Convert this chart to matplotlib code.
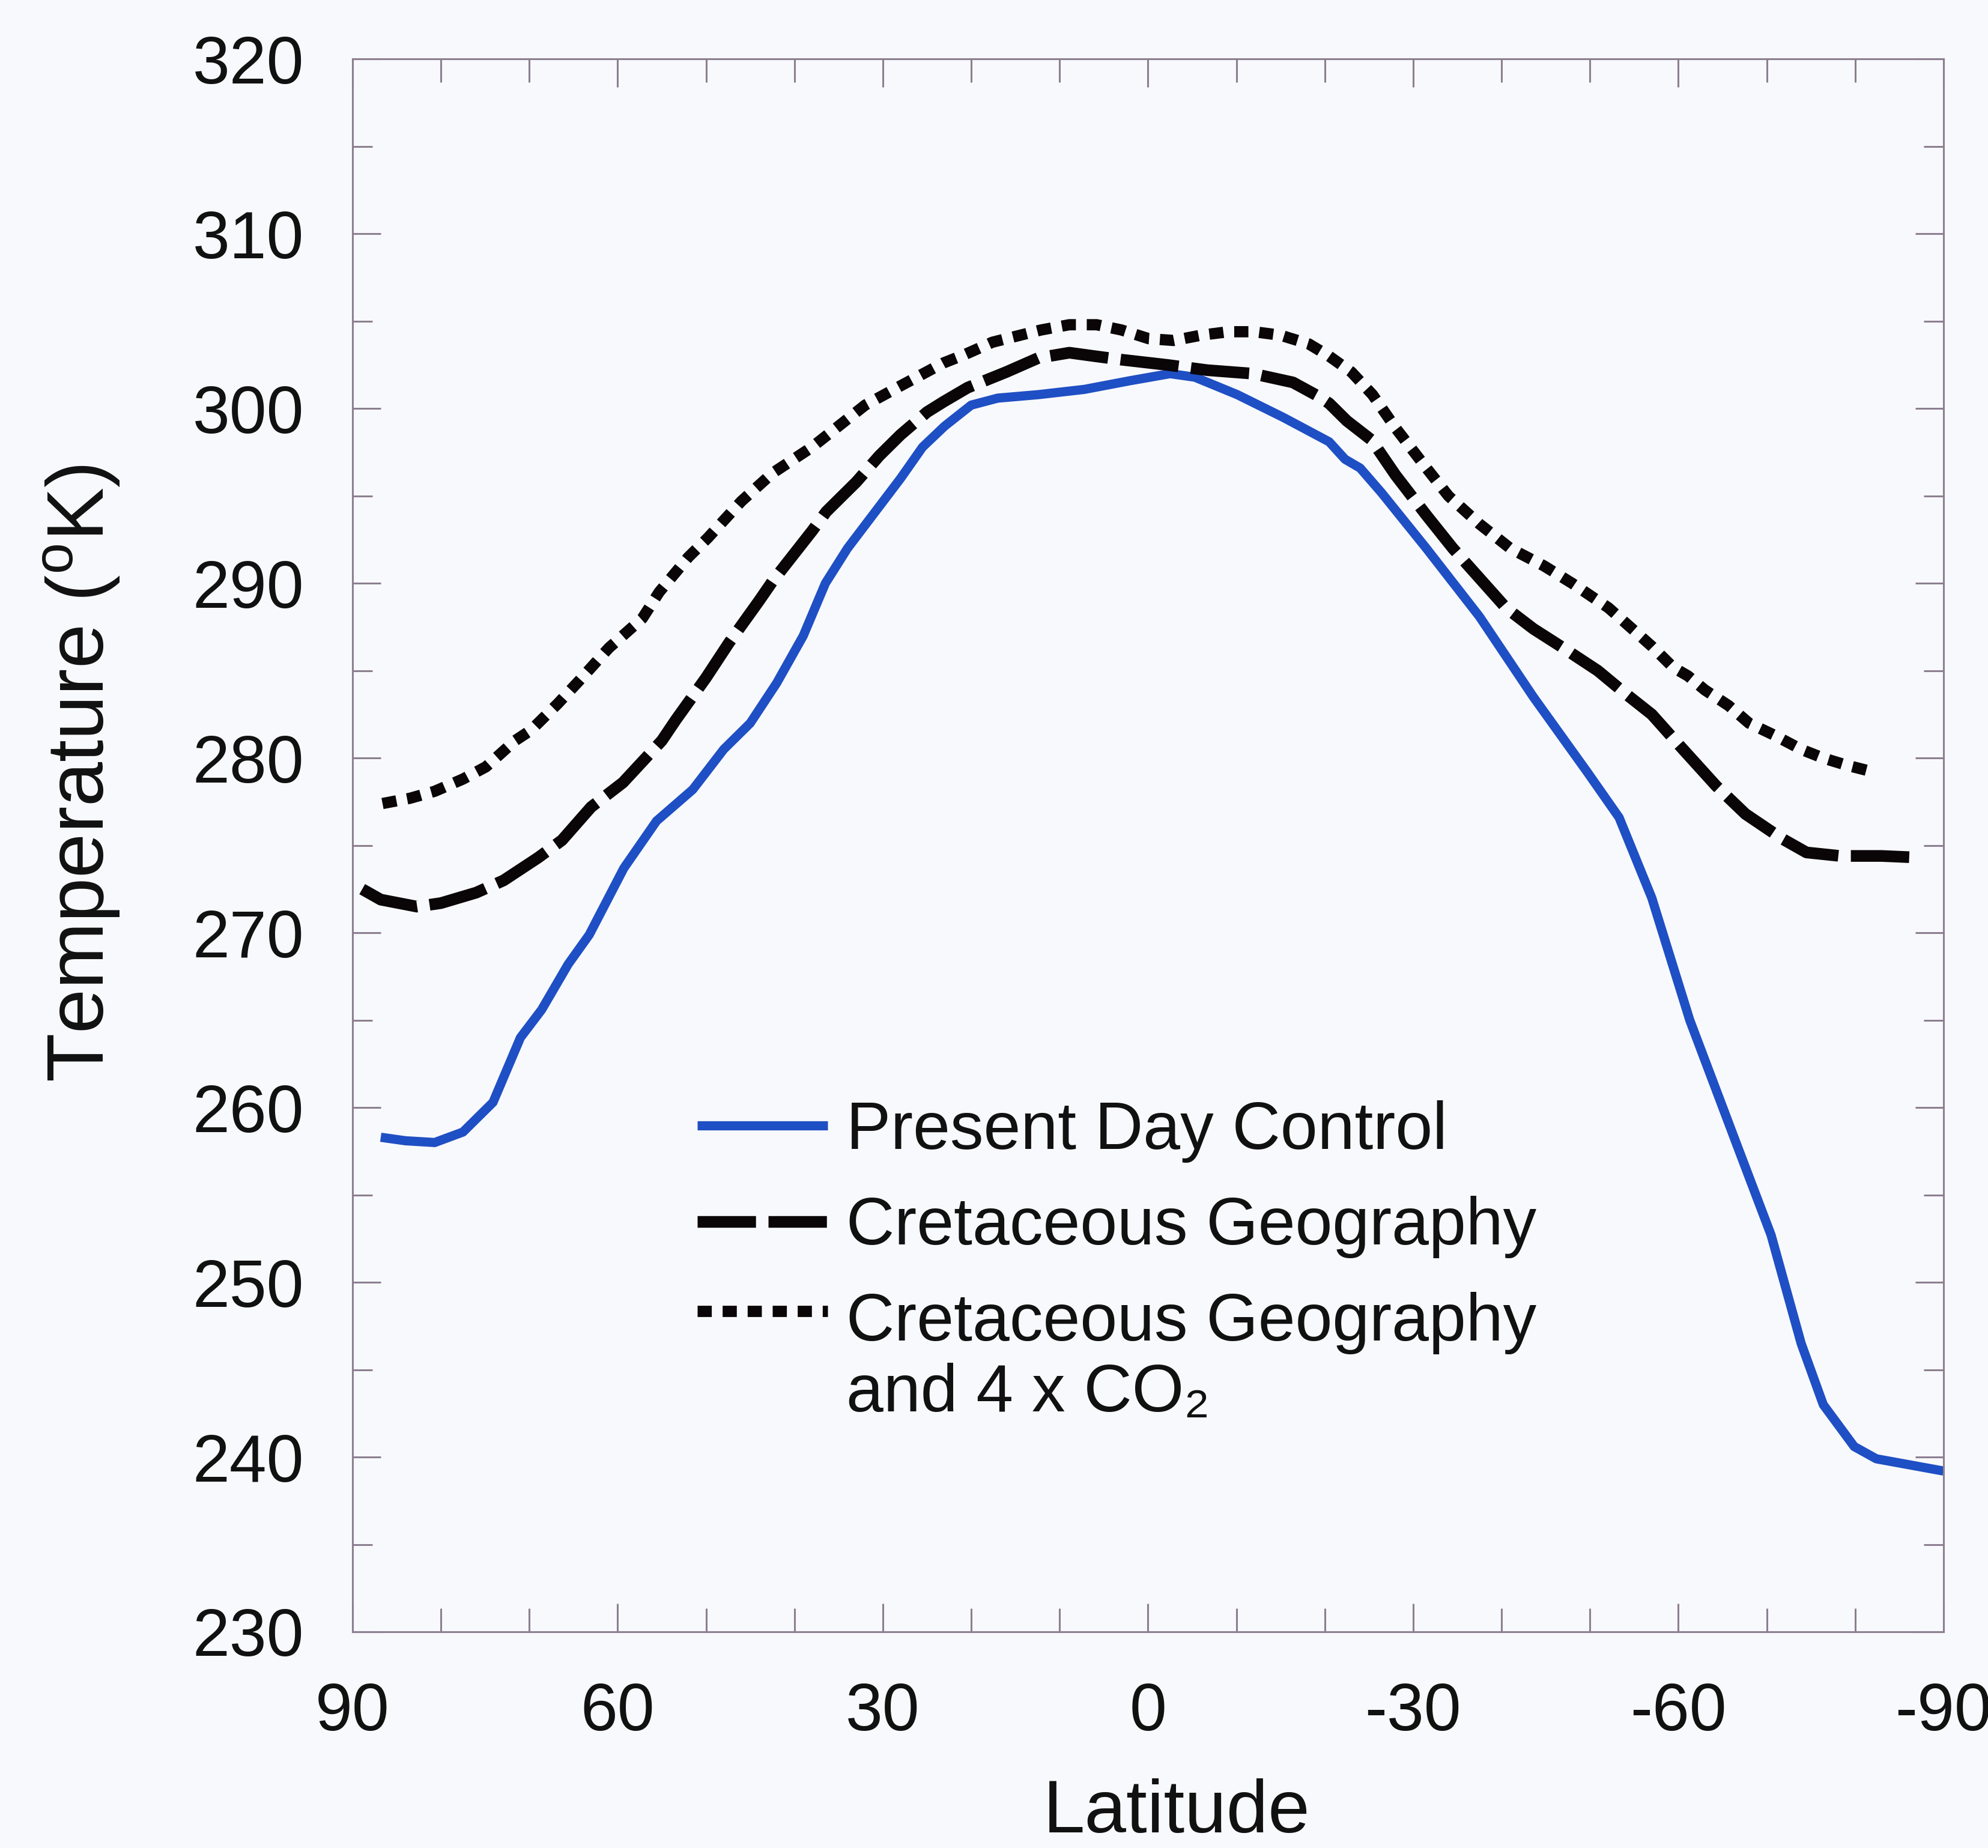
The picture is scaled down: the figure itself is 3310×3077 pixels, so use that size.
import matplotlib
matplotlib.use("Agg")
import matplotlib.pyplot as plt
import numpy as np
from matplotlib.ticker import FixedLocator, MultipleLocator

plt.rcParams['font.family'] = ['Liberation Sans', 'DejaVu Sans']
plt.rcParams['axes.unicode_minus'] = False
plt.rcParams['mathtext.fontset'] = 'custom'
plt.rcParams['mathtext.rm'] = 'Liberation Sans'
plt.rcParams['lines.scale_dashes'] = False

# ---- data ----
present_lat = [86.8, 84.0, 80.7, 77.5, 74.1, 71.0, 68.6, 65.6, 63.2, 59.3, 55.6, 51.5, 48.0, 45.0,
               42.0, 39.0, 36.5, 34.0, 31.0, 28.0, 25.5, 23.0, 20.0, 17.0, 12.4, 7.2, 2.0, -2.5,
               -5.3, -10.1, -15.3, -20.5, -22.3, -24.0, -26.4, -31.5, -37.5, -43.6, -49.7, -53.3,
               -57.0, -61.3, -66.6, -70.5, -73.9, -76.4, -79.9, -82.4, -90.0]
present_T = [258.3, 258.1, 258.0, 258.6, 260.3, 264.0, 265.6, 268.2, 269.9, 273.7, 276.4, 278.2, 280.5, 282.0,
             284.3, 287.0, 290.0, 292.0, 294.0, 296.0, 297.8, 299.0, 300.2, 300.6, 300.8, 301.1, 301.6, 302.0,
             301.8, 300.8, 299.5, 298.1, 297.1, 296.6, 295.2, 292.0, 288.1, 283.5, 279.2, 276.6,
             272.0, 265.0, 257.9, 252.7, 246.5, 243.0, 240.6, 239.9, 239.2]

cret_lat = [88.9, 86.8, 82.7, 80.0, 76.0, 72.9, 69.0, 66.3, 63.0, 59.4, 55.0, 53.4, 50.0, 47.4, 44.0,
            42.5, 38.0, 36.4, 33.0, 30.4, 28.0, 25.0, 23.1, 20.4, 16.0, 12.4, 8.9, 6.0, 3.0, -2.2,
            -6.7, -11.9, -16.4, -19.3, -20.5, -22.5, -25.3, -28.0, -31.5, -34.5, -37.5, -40.5,
            -43.6, -47.0, -50.9, -54.0, -57.0, -60.0, -64.3, -67.6, -71.7, -74.5, -78.3, -83.0, -87.5]
cret_T = [272.5, 271.9, 271.5, 271.7, 272.3, 273.0, 274.3, 275.3, 277.2, 278.6, 281.0, 282.2, 284.6, 286.6, 289.0,
          290.1, 293.0, 294.1, 295.8, 297.3, 298.5, 299.8, 300.4, 301.2, 302.1, 302.9, 303.2, 303.0, 302.8, 302.5,
          302.2, 302.0, 301.5, 300.7, 300.3, 299.3, 298.2, 296.2, 293.9, 292.0, 290.3, 288.6,
          287.4, 286.3, 285.0, 283.7, 282.5, 280.8, 278.4, 276.8, 275.4, 274.6, 274.4, 274.4, 274.3]

co2_lat = [86.6, 83.5, 80.7, 77.5, 74.9, 71.6, 69.8, 66.8, 64.4, 61.0, 57.2, 55.3, 52.0, 49.8, 46.0,
           42.5, 38.0, 35.0, 32.0, 28.0, 23.2, 20.7, 17.6, 12.1, 8.9, 5.8, 3.0, -0.1, -2.9, -6.0,
           -9.1, -12.0, -15.0, -18.2, -20.5, -23.0, -25.4, -28.0, -31.5, -34.0, -37.5, -41.0,
           -44.8, -48.0, -52.1, -55.0, -57.0, -59.4, -61.1, -63.0, -65.7, -68.0, -70.9, -73.9,
           -76.4, -79.0, -82.1]
co2_T = [277.4, 277.7, 278.1, 278.8, 279.5, 281.0, 281.6, 283.1, 284.4, 286.3, 288.0, 289.5, 291.5, 292.6, 294.7,
         296.3, 297.8, 299.0, 300.2, 301.3, 302.6, 303.1, 303.8, 304.5, 304.8, 304.8, 304.5, 304.0, 303.9, 304.2,
         304.4, 304.4, 304.2, 303.7, 303.0, 302.1, 300.8, 298.9, 296.6, 295.0, 293.4, 292.0,
         291.0, 290.0, 288.6, 287.3, 286.4, 285.2, 284.7, 283.9, 283.0, 282.0, 281.3, 280.5,
         280.0, 279.6, 279.2]

labels = ["Present Day Control", "Cretaceous Geography", "Cretaceous Geography\nand 4 x CO\u2082"]
x_ticks = [90, 60, 30, 0, -30, -60, -90]
x_ticklabels = ["90", "60", "30", "0", "-30", "-60", "-90"]
y_ticks = [230, 240, 250, 260, 270, 280, 290, 300, 310, 320]

# ---- figure ----
bg = '#f8f9fc'
spine_c = '#8c7f90'
fig = plt.figure(figsize=(33.10, 30.77), dpi=100, facecolor=bg)
ax = fig.add_axes([0.1773, 0.117, 0.8003, 0.851], facecolor=bg)

ax.plot(present_lat, present_T, color='#1f4fc4', lw=11, solid_capstyle='butt',
        solid_joinstyle='round', label=labels[0])
ax.plot(cret_lat, cret_T, color='#0a0506', lw=14, dashes=(70, 15), dash_capstyle='butt',
        dash_joinstyle='round', label=labels[1])
ax.plot(co2_lat, co2_T, color='#0a0506', lw=13.5, dashes=(17, 13), dash_capstyle='butt',
        dash_joinstyle='round', label=labels[2])

ax.set_xlim(90, -90)
ax.set_ylim(230, 320)

ax.xaxis.set_major_locator(FixedLocator(x_ticks))
ax.set_xticklabels(x_ticklabels)
ax.xaxis.set_minor_locator(MultipleLocator(10))
ax.yaxis.set_major_locator(FixedLocator(y_ticks))
ax.yaxis.set_minor_locator(MultipleLocator(5))

for s in ax.spines.values():
    s.set_color(spine_c)
    s.set_linewidth(2.2)

ax.tick_params(which='both', direction='in', top=True, right=True, color=spine_c, width=2.2,
               labelsize=80, labelcolor='#111111')
ax.tick_params(axis='x', which='major', length=34, pad=60)
ax.tick_params(axis='x', which='minor', length=28)
ax.tick_params(axis='y', which='major', length=34, pad=58)
ax.tick_params(axis='y', which='minor', length=24)

ax.set_xlabel("Latitude", fontsize=90, color='#111111')
ax.xaxis.set_label_coords(0.518, -0.093)
ax.set_ylabel("Temperature ($^{\\mathrm{o}}$K)", fontsize=96, color='#111111')
ax.yaxis.set_label_coords(-0.145, 0.546)

leg = ax.legend(loc='upper left', bbox_to_anchor=(0.2, 0.355), frameon=False,
                fontsize=80, handlelength=1.95, handletextpad=0.28, labelspacing=0.5,
                borderaxespad=0.0)
for t in leg.get_texts():
    t.set_color('#111111')
    t.set_linespacing(1.17)
# raise the dotted handle to the first line of its two-line label
h3 = leg.legend_handles[2]
h3.set_ydata(np.asarray(h3.get_ydata(), dtype=float) + 58)

fig.savefig("out.png", dpi=100, facecolor=bg)
